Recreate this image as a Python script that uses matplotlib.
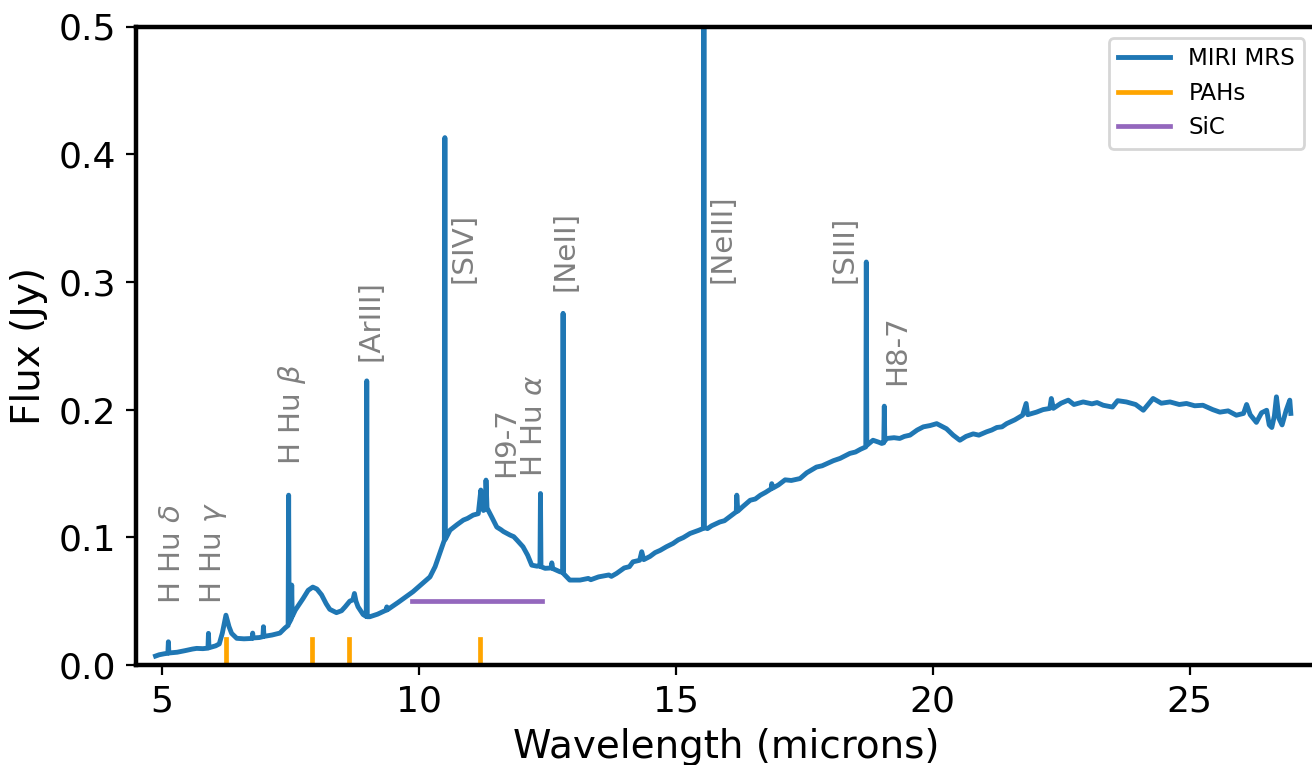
import matplotlib
matplotlib.use("Agg")
import matplotlib.pyplot as plt
import numpy as np

# spectrum (wavelength in microns, flux in Jy)
wavelength = [
  4.88, 4.95, 5.05, 5.12, 5.13, 5.14, 5.30, 5.45, 5.60, 5.68, 5.80, 5.90, 5.91, 5.92,
  6.05, 6.12, 6.18, 6.25, 6.31, 6.36, 6.46, 6.60, 6.76, 6.77, 6.78, 6.90, 6.97, 6.98,
  6.99, 7.15, 7.30, 7.40, 7.46, 7.47, 7.48, 7.52, 7.53, 7.54, 7.60, 7.75, 7.85, 7.94,
  8.02, 8.11, 8.20, 8.27, 8.40, 8.50, 8.57, 8.66, 8.72, 8.75, 8.78, 8.82, 8.92, 8.98,
  8.99, 9.00, 9.05, 9.20, 9.37, 9.38, 9.39, 9.60, 9.89, 10.05, 10.22, 10.32, 10.41,
  10.50, 10.51, 10.52, 10.61, 10.70, 10.75, 10.87, 10.95, 11.06, 11.16, 11.21, 11.26,
  11.30, 11.31, 11.33, 11.42, 11.52, 11.60, 11.65, 11.78, 11.85, 11.92, 12.03, 12.12,
  12.20, 12.30, 12.36, 12.37, 12.38, 12.46, 12.58, 12.59, 12.61, 12.75, 12.80, 12.81,
  12.82, 12.94, 13.14, 13.30, 13.35, 13.50, 13.70, 13.75, 13.85, 14.00, 14.10, 14.17,
  14.30, 14.34, 14.38, 14.50, 14.60, 14.70, 14.82, 14.95, 15.05, 15.15, 15.28, 15.45,
  15.54, 15.55, 15.56, 15.62, 15.70, 15.86, 15.95, 16.05, 16.18, 16.19, 16.21, 16.30,
  16.45, 16.55, 16.65, 16.75, 16.86, 16.87, 16.89, 17.00, 17.13, 17.25, 17.42, 17.55,
  17.74, 17.85, 18.07, 18.20, 18.39, 18.50, 18.60, 18.70, 18.71, 18.72, 18.84, 18.95,
  19.01, 19.05, 19.06, 19.07, 19.11, 19.25, 19.36, 19.45, 19.56, 19.70, 19.82, 19.95,
  20.08, 20.27, 20.40, 20.53, 20.65, 20.79, 20.90, 21.05, 21.15, 21.25, 21.35, 21.44,
  21.60, 21.75, 21.82, 21.85, 22.02, 22.15, 22.28, 22.31, 22.35, 22.50, 22.64, 22.75,
  22.93, 23.10, 23.20, 23.32, 23.50, 23.60, 23.77, 23.95, 24.10, 24.29, 24.45, 24.62,
  24.80, 24.94, 25.10, 25.26, 25.45, 25.59, 25.75, 25.91, 26.05, 26.11, 26.18, 26.30,
  26.40, 26.50, 26.55, 26.60, 26.65, 26.69, 26.74, 26.80, 26.88, 26.95, 26.97]

flux = [
  0.0070, 0.0080, 0.0088, 0.0092, 0.0182, 0.0094, 0.0100, 0.0112, 0.0125, 0.0130, 0.0128, 0.0132, 0.0248, 0.0135,
  0.0150, 0.0165, 0.0250, 0.0390, 0.0300, 0.0248, 0.0209, 0.0205, 0.0208, 0.0250, 0.0212, 0.0215, 0.0222, 0.0300,
  0.0224, 0.0235, 0.0250, 0.0290, 0.0310, 0.1330, 0.0330, 0.0360, 0.0626, 0.0380, 0.0430, 0.0520, 0.0585, 0.0610,
  0.0595, 0.0550, 0.0480, 0.0436, 0.0410, 0.0425, 0.0456, 0.0500, 0.0510, 0.0560, 0.0500, 0.0456, 0.0395, 0.0380,
  0.2225, 0.0378, 0.0378, 0.0398, 0.0430, 0.0455, 0.0432, 0.0490, 0.0574, 0.0630, 0.0690, 0.0770, 0.0874,
  0.0978, 0.4130, 0.0985, 0.1056, 0.1085, 0.1100, 0.1135, 0.1148, 0.1174, 0.1185, 0.1370, 0.1210,
  0.1220, 0.1448, 0.1230, 0.1160, 0.1080, 0.1060, 0.1045, 0.1017, 0.1005, 0.0975, 0.0926, 0.0860,
  0.0782, 0.0774, 0.0775, 0.1343, 0.0770, 0.0757, 0.0760, 0.0800, 0.0755, 0.0730, 0.0725, 0.2754,
  0.0715, 0.0665, 0.0665, 0.0678, 0.0668, 0.0690, 0.0705, 0.0694, 0.0717, 0.0760, 0.0770, 0.0808,
  0.0820, 0.0887, 0.0825, 0.0850, 0.0880, 0.0898, 0.0926, 0.0952, 0.0980, 0.0998, 0.1030, 0.1055,
  0.1070, 0.6200, 0.1075, 0.1068, 0.1090, 0.1120, 0.1130, 0.1160, 0.1200, 0.1330, 0.1205, 0.1238,
  0.1290, 0.1300, 0.1330, 0.1352, 0.1380, 0.1420, 0.1385, 0.1410, 0.1450, 0.1445, 0.1460, 0.1505,
  0.1550, 0.1560, 0.1600, 0.1618, 0.1657, 0.1668, 0.1690, 0.1708, 0.3156, 0.1720, 0.1760, 0.1745,
  0.1735, 0.1740, 0.2027, 0.1755, 0.1774, 0.1780, 0.1774, 0.1790, 0.1800, 0.1840, 0.1865, 0.1875,
  0.1890, 0.1850, 0.1800, 0.1760, 0.1790, 0.1810, 0.1800, 0.1826, 0.1840, 0.1860, 0.1865, 0.1890,
  0.1920, 0.1956, 0.2048, 0.1960, 0.1980, 0.2000, 0.2009, 0.2087, 0.2010, 0.2050, 0.2074, 0.2040,
  0.2060, 0.2045, 0.2055, 0.2034, 0.2020, 0.2070, 0.2060, 0.2040, 0.1995, 0.2087, 0.2050, 0.2060,
  0.2040, 0.2048, 0.2030, 0.2034, 0.2000, 0.1980, 0.1990, 0.1956, 0.1970, 0.2040, 0.1960, 0.1900,
  0.1975, 0.1995, 0.1880, 0.1860, 0.1950, 0.2100, 0.1930, 0.1880, 0.1995, 0.2074, 0.1970]

# PAH band positions and the SiC feature range
pah_bands = [6.25, 7.93, 8.65, 11.2]
pah_height = 0.02
sic_range = [9.88, 12.4]
sic_level = 0.05

# line labels
line_names = ['H Hu $\\delta$', 'H Hu $\\gamma$', 'H Hu $\\beta$', '[ArIII]', '[SIV]',
              'H9-7', 'H Hu $\\alpha$', '[NeII]', '[NeIII]', '[SIII]', 'H8-7']
label_x = [4.93, 5.71, 7.22, 8.79, 10.60, 11.42, 11.98, 12.59, 15.63, 18.02, 19.04]
label_y = [0.048, 0.048, 0.157, 0.238, 0.299, 0.147, 0.147, 0.293, 0.299, 0.299, 0.219]

fig = plt.figure(figsize=(6.56, 3.825), dpi=200)
ax = fig.add_axes([136 / 1312, 100 / 765, 1180 / 1312, 638.5 / 765])

ax.plot(wavelength, flux, color='tab:blue', lw=1.75, label='MIRI MRS')
for i, band in enumerate(pah_bands):
  ax.plot([band, band], [0, pah_height], color='orange', lw=1.7,
          label='PAHs' if i == 0 else None)
ax.plot(sic_range, [sic_level, sic_level], color='tab:purple', lw=1.7, label='SiC')

for name, x, y in zip(line_names, label_x, label_y):
  ax.text(x, y, name, rotation=90, color='gray', fontsize=10.6,
          ha='left', va='bottom')

ax.set_xlim(4.5, 27.46)
ax.set_ylim(0, 0.5)
ax.set_xticks([5, 10, 15, 20, 25])
ax.set_yticks(np.arange(0, 0.51, 0.1))
ax.set_yticklabels(['0.0', '0.1', '0.2', '0.3', '0.4', '0.5'])
ax.tick_params(labelsize=13, width=0.8, length=3.5)
for s in ax.spines.values():
  s.set_linewidth(1.6)
ax.set_xlabel('Wavelength (microns)', fontsize=14, labelpad=3.5)
ax.set_ylabel('Flux (Jy)', fontsize=14)
ax.legend(loc='upper right', fontsize=8.3, handlelength=2.25)

fig.savefig('out.png', dpi=200)
